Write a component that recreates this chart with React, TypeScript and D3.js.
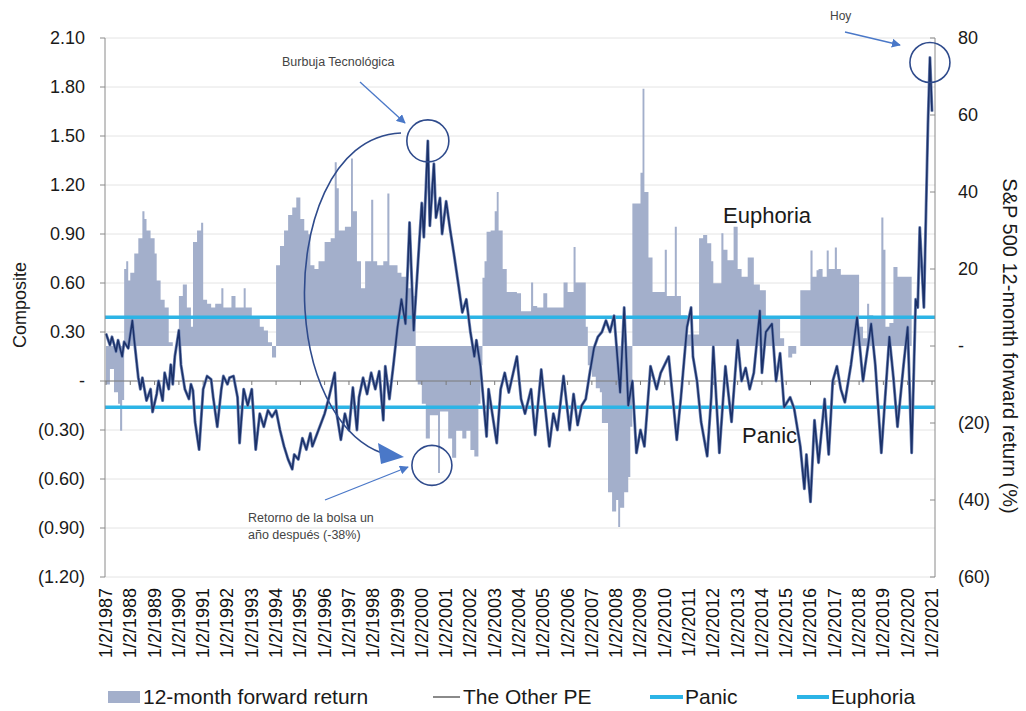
import React from "react";
import * as d3 from "d3";

// ---------- DATA ----------
// S&P 500 12-month forward return (%), right axis; each value holds until the next date
const forwardReturn: [string, number][] = [
  ["1987-01", -10], ["1987-03", -6], ["1987-05", -12], ["1987-07", -15], ["1987-08", -22], ["1987-09", -14],
  ["1987-10", 20], ["1987-11", 22], ["1987-12", 17], ["1988-01", 19], ["1988-03", 24], ["1988-05", 28],
  ["1988-07", 35], ["1988-08", 33], ["1988-09", 30], ["1988-11", 28],
  ["1989-01", 24], ["1989-02", 17], ["1989-04", 12], ["1989-06", 10], ["1989-08", 1], ["1989-10", 0], ["1989-12", 2],
  ["1990-01", 13], ["1990-03", 16], ["1990-05", 10], ["1990-07", 5], ["1990-08", 27], ["1990-10", 30], ["1990-12", 32],
  ["1991-01", 12], ["1991-03", 11], ["1991-05", 10], ["1991-07", 11], ["1991-10", 15], ["1991-11", 10],
  ["1992-01", 10], ["1992-03", 13], ["1992-05", 10], ["1992-07", 10], ["1992-09", 15], ["1992-10", 10],
  ["1993-01", 7.5], ["1993-03", 7], ["1993-05", 5], ["1993-07", 4], ["1993-09", 1], ["1993-11", -3],
  ["1994-01", 21], ["1994-03", 26], ["1994-05", 30], ["1994-07", 34], ["1994-09", 36], ["1994-11", 38.6],
  ["1995-01", 33], ["1995-03", 30], ["1995-05", 29], ["1995-06", 21], ["1995-08", 20], ["1995-10", 22],
  ["1996-01", 27], ["1996-04", 28], ["1996-06", 47.7], ["1996-07", 41], ["1996-08", 30], ["1996-11", 31],
  ["1997-02", 48.7], ["1997-03", 35], ["1997-05", 22], ["1997-07", 15], ["1997-09", 22], ["1997-12", 38],
  ["1998-01", 22], ["1998-03", 21], ["1998-06", 22], ["1998-08", 39.6], ["1998-09", 21], ["1998-11", 21],
  ["1999-01", 19], ["1999-03", 18], ["1999-06", 15], ["1999-08", 13], ["1999-10", -9], ["1999-11", -10],
  ["2000-01", -15], ["2000-03", -24], ["2000-05", -18], ["2000-07", -18], ["2000-09", -33], ["2000-10", -17], ["2000-12", -17],
  ["2001-02", -24], ["2001-04", -29], ["2001-06", -22], ["2001-09", -24], ["2001-11", -22],
  ["2002-01", -27], ["2002-03", -28.7], ["2002-05", -15], ["2002-06", -5],
  ["2002-07", 17.7], ["2002-08", 22], ["2002-09", 29.7], ["2002-11", 30], ["2003-01", 35], ["2003-02", 40],
  ["2003-03", 30], ["2003-05", 20], ["2003-07", 14], ["2003-10", 14], ["2003-12", 13.7],
  ["2004-02", 9], ["2004-05", 9], ["2004-07", 16.5], ["2004-08", 10.4], ["2004-10", 10],
  ["2005-01", 13.7], ["2005-03", 10], ["2005-06", 10], ["2005-09", 10], ["2005-11", 16.5],
  ["2006-01", 14], ["2006-03", 14], ["2006-04", 25.7], ["2006-05", 16.5], ["2006-07", 16.5], ["2006-10", 5], ["2006-11", -5],
  ["2007-01", -8], ["2007-03", -11], ["2007-05", -12], ["2007-06", -20], ["2007-08", -20], ["2007-09", -38], ["2007-11", -43],
  ["2008-01", -40], ["2008-02", -47], ["2008-03", -42], ["2008-05", -38], ["2008-07", -34], ["2008-08", -21],
  ["2008-09", 37], ["2008-11", 37], ["2009-01", 45], ["2009-02", 66.8], ["2009-03", 40], ["2009-05", 23], ["2009-07", 14], ["2009-10", 14],
  ["2010-01", 25], ["2010-02", 13], ["2010-04", 13], ["2010-06", 31], ["2010-07", 13], ["2010-09", 8], ["2010-12", 3],
  ["2011-03", 3], ["2011-06", 28], ["2011-08", 28.8], ["2011-10", 26.7], ["2011-12", 22],
  ["2012-01", 16.3], ["2012-03", 16.3], ["2012-05", 29.3], ["2012-06", 25], ["2012-08", 22.3], ["2012-11", 31],
  ["2013-01", 20], ["2013-03", 18], ["2013-06", 23], ["2013-09", 16], ["2013-12", 14.5],
  ["2014-03", 7.5], ["2014-08", 7.5], ["2014-10", 2], ["2014-12", 0],
  ["2015-02", -3], ["2015-04", -2], ["2015-06", 0], ["2015-08", 14.5], ["2015-10", 14.5],
  ["2016-01", 24.8], ["2016-02", 18], ["2016-04", 19.7], ["2016-05", 20], ["2016-07", 18], ["2016-09", 24.8], ["2016-10", 20],
  ["2017-01", 25.6], ["2017-02", 20], ["2017-04", 18.5], ["2017-07", 18.5], ["2017-10", 18.5],
  ["2018-01", 5], ["2018-03", 2], ["2018-05", 11], ["2018-06", 8], ["2018-08", 7], ["2018-11", 7], ["2018-12", 33.4],
  ["2019-01", 25], ["2019-02", 5], ["2019-04", 6], ["2019-06", 20.5], ["2019-08", 18], ["2019-11", 18], ["2020-02", 18],
];
const forwardReturnEnd = "2020-03";

// Composite ("The Other PE"), left axis
const composite: [string, number][] = [
  ["1987-01", 0.29], ["1987-03", 0.22], ["1987-04", 0.27], ["1987-06", 0.18], ["1987-07", 0.25], ["1987-09", 0.15], ["1987-10", 0.24], ["1987-12", 0.2],
  ["1988-02", 0.37], ["1988-03", 0.25], ["1988-05", 0.02], ["1988-06", -0.05], ["1988-07", 0.02], ["1988-09", -0.12], ["1988-11", -0.05], ["1988-12", -0.19],
  ["1989-02", -0.08], ["1989-03", 0.0], ["1989-05", -0.12], ["1989-06", 0.05], ["1989-08", -0.05], ["1989-09", 0.1], ["1989-10", -0.02], ["1989-11", 0.15],
  ["1990-01", 0.31], ["1990-02", 0.1], ["1990-04", -0.05], ["1990-06", -0.11], ["1990-07", -0.02], ["1990-08", -0.06], ["1990-09", -0.25], ["1990-11", -0.42],
  ["1991-01", -0.05], ["1991-03", 0.03], ["1991-05", 0.01], ["1991-06", -0.1], ["1991-08", -0.28], ["1991-10", -0.05], ["1991-11", 0.03],
  ["1992-01", -0.02], ["1992-02", 0.02], ["1992-04", 0.03], ["1992-06", -0.1], ["1992-07", -0.38], ["1992-09", -0.05], ["1992-11", -0.15],
  ["1993-01", -0.05], ["1993-03", -0.42], ["1993-05", -0.2], ["1993-07", -0.28], ["1993-09", -0.18], ["1993-11", -0.22],
  ["1994-01", -0.18], ["1994-03", -0.3], ["1994-05", -0.4], ["1994-07", -0.48], ["1994-09", -0.54], ["1994-10", -0.45], ["1994-12", -0.48],
  ["1995-02", -0.35], ["1995-04", -0.42], ["1995-06", -0.32], ["1995-07", -0.4], ["1995-10", -0.3],
  ["1996-01", -0.2], ["1996-03", -0.11], ["1996-06", 0.05], ["1996-07", -0.2], ["1996-09", -0.36], ["1996-11", -0.2],
  ["1997-01", -0.3], ["1997-03", -0.04], ["1997-05", -0.3], ["1997-06", -0.1], ["1997-08", 0.02], ["1997-10", -0.08], ["1997-12", 0.05],
  ["1998-02", -0.05], ["1998-04", 0.06], ["1998-06", -0.24], ["1998-07", 0.09], ["1998-09", -0.11], ["1998-11", 0.1],
  ["1999-01", 0.33], ["1999-03", 0.5], ["1999-05", 0.35], ["1999-07", 0.97], ["1999-09", 0.31], ["1999-11", 0.7],
  ["2000-01", 1.09], ["2000-02", 0.88], ["2000-04", 1.47], ["2000-05", 0.95], ["2000-07", 1.33], ["2000-08", 1.0], ["2000-10", 1.12], ["2000-11", 0.9],
  ["2001-01", 1.1], ["2001-03", 0.93], ["2001-05", 0.77], ["2001-07", 0.6], ["2001-09", 0.42], ["2001-11", 0.5],
  ["2002-01", 0.3], ["2002-03", 0.15], ["2002-04", 0.25], ["2002-06", 0.09], ["2002-09", -0.34], ["2002-10", -0.05],
  ["2003-02", -0.38], ["2003-04", -0.05], ["2003-06", 0.05], ["2003-08", -0.07], ["2003-12", 0.15],
  ["2004-02", -0.11], ["2004-04", -0.2], ["2004-07", -0.05], ["2004-09", -0.33], ["2004-12", 0.07],
  ["2005-04", -0.4], ["2005-06", -0.2], ["2005-08", -0.3], ["2005-11", 0.03],
  ["2006-02", -0.3], ["2006-04", -0.08], ["2006-06", -0.27], ["2006-08", -0.15], ["2006-10", -0.11], ["2006-12", 0.05],
  ["2007-02", 0.2], ["2007-04", 0.27], ["2007-06", 0.3], ["2007-08", 0.37], ["2007-10", 0.3], ["2007-12", 0.4],
  ["2008-03", -0.07], ["2008-05", 0.45], ["2008-07", -0.15], ["2008-09", 0.0], ["2008-11", -0.44],
  ["2009-01", -0.3], ["2009-03", -0.4], ["2009-06", 0.09], ["2009-09", -0.05], ["2009-11", 0.05],
  ["2010-03", 0.15], ["2010-05", -0.1], ["2010-07", -0.36], ["2010-09", -0.1], ["2010-12", 0.33],
  ["2011-02", 0.45], ["2011-03", 0.15], ["2011-05", 0.0], ["2011-07", -0.25], ["2011-10", -0.46], ["2011-12", -0.1],
  ["2012-01", 0.21], ["2012-04", -0.44], ["2012-07", 0.09], ["2012-10", -0.25],
  ["2013-01", 0.25], ["2013-03", 0.0], ["2013-05", 0.08], ["2013-07", -0.05], ["2013-09", 0.05], ["2013-12", 0.43],
  ["2014-01", 0.05], ["2014-03", 0.3], ["2014-06", 0.35], ["2014-08", 0.0], ["2014-10", 0.17], ["2014-12", -0.16],
  ["2015-03", -0.1], ["2015-05", -0.17], ["2015-08", -0.4], ["2015-10", -0.66], ["2015-11", -0.45], ["2015-12", -0.6],
  ["2016-01", -0.74], ["2016-03", -0.24], ["2016-05", -0.5], ["2016-08", -0.11], ["2016-10", -0.45], ["2016-12", 0.0],
  ["2017-02", 0.09], ["2017-04", -0.05], ["2017-06", -0.13], ["2017-09", 0.1], ["2017-12", 0.39],
  ["2018-03", 0.0], ["2018-07", 0.35], ["2018-09", 0.1], ["2018-12", -0.44],
  ["2019-04", 0.27], ["2019-06", 0.02], ["2019-08", -0.28], ["2019-11", 0.1],
  ["2020-01", 0.33], ["2020-03", -0.44], ["2020-05", 0.5], ["2020-06", 0.45], ["2020-07", 0.94], ["2020-09", 0.45],
  ["2020-11", 1.57], ["2020-12", 1.98], ["2021-01", 1.65],
];

const panicLevel = -0.16;
const euphoriaLevel = 0.39;

const leftTicks = [2.1, 1.8, 1.5, 1.2, 0.9, 0.6, 0.3, 0, -0.3, -0.6, -0.9, -1.2];
const rightTicks = [80, 60, 40, 20, 0, -20, -40, -60];
const xTickYears = [
  1987, 1988, 1989, 1990, 1991, 1992, 1993, 1994, 1995, 1996, 1997, 1998, 1999, 2000, 2001, 2002, 2003,
  2004, 2005, 2006, 2007, 2008, 2009, 2010, 2011, 2012, 2013, 2014, 2015, 2016, 2017, 2018, 2019, 2020, 2021,
];

// ---------- STYLE ----------
const FONT = "'Liberation Sans', Arial, sans-serif";
const BAR = "#a3afcb";
const NAVY = "#1b3169";
const CYAN = "#2cb4e6";
const ARROW = "#4a78c8";
const RING = "#2f4b8c";

const parse = d3.timeParse("%Y-%m");

export default function App() {
  const W = 1026, H = 711;
  const left = 105, right = 935, top = 38, bottom = 577;

  const x = d3.scaleTime().domain([parse("1987-01")!, parse("2021-01")!]).range([106, 932]);
  const yL = d3.scaleLinear().domain([-1.2, 2.1]).range([bottom, top]);
  const yR = d3.scaleLinear().domain([-60, 80]).range([bottom, top]);

  const retData: [Date, number][] = forwardReturn.map(([d, v]) => [parse(d)!, v]);
  retData.push([parse(forwardReturnEnd)!, forwardReturn[forwardReturn.length - 1][1]]);
  const area = d3
    .area<[Date, number]>()
    .x((d) => x(d[0]))
    .y0(yR(0))
    .y1((d) => yR(d[1]))
    .curve(d3.curveStepAfter);

  const compData: [Date, number][] = composite.map(([d, v]) => [parse(d)!, v]);
  const line = d3
    .line<[Date, number]>()
    .x((d) => x(d[0]))
    .y((d) => yL(d[1]));

  const fmtL = (v: number) => (Math.abs(v) < 1e-9 ? "-" : v < 0 ? `(${Math.abs(v).toFixed(2)})` : v.toFixed(2));
  const fmtR = (v: number) => (v === 0 ? "-" : v < 0 ? `(${Math.abs(v)})` : `${v}`);

  // annotation anchors from data
  const bubble = { cx: x(parse("2000-04")!), cy: yL(1.47) };
  const after = { cx: x(parse("2000-06")!), cy: yR(-31) };
  const today = { cx: x(parse("2020-12")!), cy: yL(1.95) };

  return (
    <svg width={W} height={H} style={{ position: "absolute", left: 0, top: 0, background: "#fff" }} fontFamily={FONT}>
      <defs>
        <marker id="arrLight" viewBox="0 0 10 10" refX="9" refY="5" markerWidth="9" markerHeight="9" orient="auto" markerUnits="userSpaceOnUse">
          <path d="M0,0 L10,5 L0,10 z" fill={ARROW} />
        </marker>
        <clipPath id="plotClip">
          <rect x={left} y={top - 2} width={right - left} height={bottom - top + 4} />
        </clipPath>
      </defs>

      {/* gridlines */}
      {leftTicks.map((t) => (
        <line key={"g" + t} x1={left} x2={right} y1={yL(t)} y2={yL(t)} stroke="#e4e4e4" strokeWidth={1} />
      ))}

      {/* forward return bars */}
      <path d={area(retData) || ""} fill={BAR} clipPath="url(#plotClip)" />

      {/* zero line with small category ticks */}
      <line x1={left} x2={right} y1={yL(0)} y2={yL(0)} stroke="#7a7a7a" strokeWidth={1} />
      {xTickYears.map((yr) => (
        <line key={"zt" + yr} x1={x(parse(`${yr}-01`)!)} x2={x(parse(`${yr}-01`)!)} y1={yL(0)} y2={yL(0) + 4} stroke="#7a7a7a" strokeWidth={1} />
      ))}

      {/* panic / euphoria */}
      <line x1={left} x2={right} y1={yL(euphoriaLevel)} y2={yL(euphoriaLevel)} stroke={CYAN} strokeWidth={3.5} />
      <line x1={left} x2={right} y1={yL(panicLevel)} y2={yL(panicLevel)} stroke={CYAN} strokeWidth={3.5} />

      {/* composite line */}
      <path d={line(compData) || ""} fill="none" stroke="#7488b6" strokeWidth={3} strokeLinejoin="round" />
      <path d={line(compData) || ""} fill="none" stroke={NAVY} strokeWidth={1.6} strokeLinejoin="round" />

      {/* axes */}
      <line x1={left} x2={left} y1={top} y2={bottom} stroke="#8a8a8a" strokeWidth={1} />
      {leftTicks.map((t) => (
        <line key={"lt" + t} x1={left - 5} x2={left} y1={yL(t)} y2={yL(t)} stroke="#8a8a8a" />
      ))}
      {leftTicks.map((t) => (
        <text key={"ll" + t} x={85} y={yL(t)} dy="0.35em" textAnchor="end" fontSize={18} fill="#1a1a1a">
          {fmtL(t)}
        </text>
      ))}
      <line x1={right} x2={right} y1={top} y2={bottom} stroke="#8a8a8a" strokeWidth={1} />
      {rightTicks.map((t) => (
        <line key={"rt" + t} x1={right - 5} x2={right} y1={yR(t)} y2={yR(t)} stroke="#8a8a8a" />
      ))}
      {rightTicks.map((t) => (
        <text key={"rl" + t} x={958} y={yR(t)} dy="0.35em" textAnchor="start" fontSize={18} fill="#1a1a1a">
          {fmtR(t)}
        </text>
      ))}

      {/* x labels */}
      {xTickYears.map((yr) => {
        const px = x(parse(`${yr}-01`)!);
        return (
          <text key={"xl" + yr} transform={`translate(${px + 6},588) rotate(-90)`} textAnchor="end" fontSize={18} fill="#111">
            {`1/2/${yr}`}
          </text>
        );
      })}

      {/* axis titles */}
      <text transform="translate(26,305) rotate(-90)" textAnchor="middle" fontSize={18} fill="#1a1a1a">
        Composite
      </text>
      <text transform="translate(1003,346) rotate(90)" textAnchor="middle" fontSize={20} fill="#1a1a1a">
        S&amp;P 500 12-month forward return (%)
      </text>

      {/* region labels */}
      <text x={723} y={223} fontSize={22} fill="#1a1a1a">Euphoria</text>
      <text x={742} y={443} fontSize={22} fill="#1a1a1a">Panic</text>

      {/* annotations */}
      <text x={282} y={66} fontSize={12.5} fill="#444">Burbuja Tecnológica</text>
      <line x1={360} y1={82} x2={405} y2={123} stroke={ARROW} strokeWidth={1.3} markerEnd="url(#arrLight)" />
      <circle cx={bubble.cx} cy={bubble.cy} r={21} fill="none" stroke={RING} strokeWidth={1.6} />
      <path d="M 401 133 C 330 136, 300 230, 305 310 C 310 390, 345 440, 382 453" fill="none" stroke={RING} strokeWidth={1.6} />
      <polygon points="378,443 381,464 404,457" fill={ARROW} />
      <circle cx={after.cx} cy={after.cy} r={20} fill="none" stroke={RING} strokeWidth={1.6} />
      <line x1={325} y1={500} x2={408} y2={467} stroke={ARROW} strokeWidth={1.3} markerEnd="url(#arrLight)" />
      <text x={248} y={522} fontSize={12.5} fill="#444">Retorno de la bolsa un</text>
      <text x={248} y={539} fontSize={12.5} fill="#444">año después (-38%)</text>
      <text x={830} y={20} fontSize={12} fill="#444">Hoy</text>
      <line x1={845} y1={32} x2={900} y2={45} stroke={ARROW} strokeWidth={1.3} markerEnd="url(#arrLight)" />
      <circle cx={today.cx} cy={today.cy} r={20} fill="none" stroke={RING} strokeWidth={1.6} />

      {/* legend */}
      <rect x={108} y={691} width={32} height={12} fill={BAR} />
      <text x={143} y={704} fontSize={21} fill="#1a1a1a">12-month forward return</text>
      <line x1={433} x2={460} y1={697} y2={697} stroke="#8a8a8a" strokeWidth={2} />
      <text x={463} y={704} fontSize={21} fill="#1a1a1a">The Other PE</text>
      <line x1={650} x2={683} y1={697} y2={697} stroke={CYAN} strokeWidth={4} />
      <text x={685} y={704} fontSize={21} fill="#1a1a1a">Panic</text>
      <line x1={797} x2={829} y1={697} y2={697} stroke={CYAN} strokeWidth={4} />
      <text x={831} y={704} fontSize={21} fill="#1a1a1a">Euphoria</text>
    </svg>
  );
}
